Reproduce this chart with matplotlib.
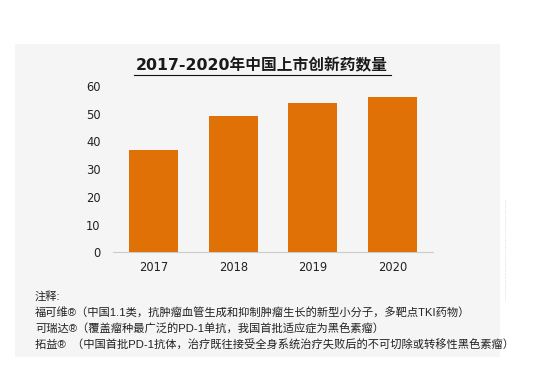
import matplotlib
matplotlib.use("Agg")
import matplotlib.pyplot as plt
from matplotlib.patches import Rectangle
from matplotlib.lines import Line2D

plt.rcParams['font.family'] = ['Liberation Sans', 'Noto Sans CJK SC', 'DejaVu Sans']

years = ['2017', '2018', '2019', '2020']
counts = [37, 49, 54, 56]
yticks = [0, 10, 20, 30, 40, 50, 60]
title = '2017-2020年中国上市创新药数量'
notes = [
    '注释:',
    '福可维®（中国1.1类，抗肿瘤血管生成和抑制肿瘤生长的新型小分子，多靶点TKI药物）',
    '可瑞达®（覆盖瘤种最广泛的PD-1单抗，我国首批适应症为黑色素瘤）',
    '拓益®  （中国首批PD-1抗体，治疗既往接受全身系统治疗失败后的不可切除或转移性黑色素瘤）',
]

W, H = 537, 369
fig = plt.figure(figsize=(W / 100, H / 100), dpi=100)
fig.patch.set_facecolor('white')

def fx(px):
    return px / W

def fy(py):
    return 1 - py / H

# background panel (drawn in a full-figure axes beneath everything)
bg = fig.add_axes([0, 0, 1, 1], zorder=-10)
bg.set_xlim(0, 1)
bg.set_ylim(0, 1)
bg.axis('off')
bg.add_patch(Rectangle((fx(15), fy(357)), fx(500) - fx(15), fy(44) - fy(357),
                       facecolor='#f5f5f5', edgecolor='none'))
bg.plot([fx(505), fx(505)], [fy(200), fy(300)], color='#d0d0d0', linewidth=0.6,
        linestyle=':')

ax = fig.add_axes([fx(113), fy(252.3), fx(433) - fx(113), fy(86) - fy(252.3)], zorder=1)
ax.set_facecolor('none')
x = range(len(years))
ax.bar(x, counts, width=0.62, color='#df7107', zorder=3)
ax.set_xlim(-0.51, 3.51)
ax.set_ylim(0, 60)
ax.set_yticks(yticks)
ax.set_xticks(list(x))
ax.set_xticklabels(years)
for s in ['top', 'right', 'left']:
    ax.spines[s].set_visible(False)
ax.spines['bottom'].set_color('#cccccc')
ax.spines['bottom'].set_linewidth(0.8)
ax.tick_params(axis='both', length=0, labelsize=8.3, colors='#222222')
ax.tick_params(axis='y', pad=9)
ax.tick_params(axis='x', pad=6)
for lab in ax.get_xticklabels() + ax.get_yticklabels():
    lab.set_family('DejaVu Sans')

# title with underline
fig.text(fx(262), fy(66), title, ha='center', va='center', fontsize=11.3,
         fontweight='bold', color='#1a1a1a',
         family=['DejaVu Sans', 'Noto Sans CJK SC'])
fig.lines.append(Line2D([fx(134), fx(391)], [fy(75), fy(75)], transform=fig.transFigure,
                        color='#111111', linewidth=0.8))

# notes
note_y = [296, 313, 329, 345]
for t, yy in zip(notes, note_y):
    fig.text(fx(35), fy(yy), t, ha='left', va='center', fontsize=8.1, color='#222222')

fig.savefig('out.png', dpi=100)
